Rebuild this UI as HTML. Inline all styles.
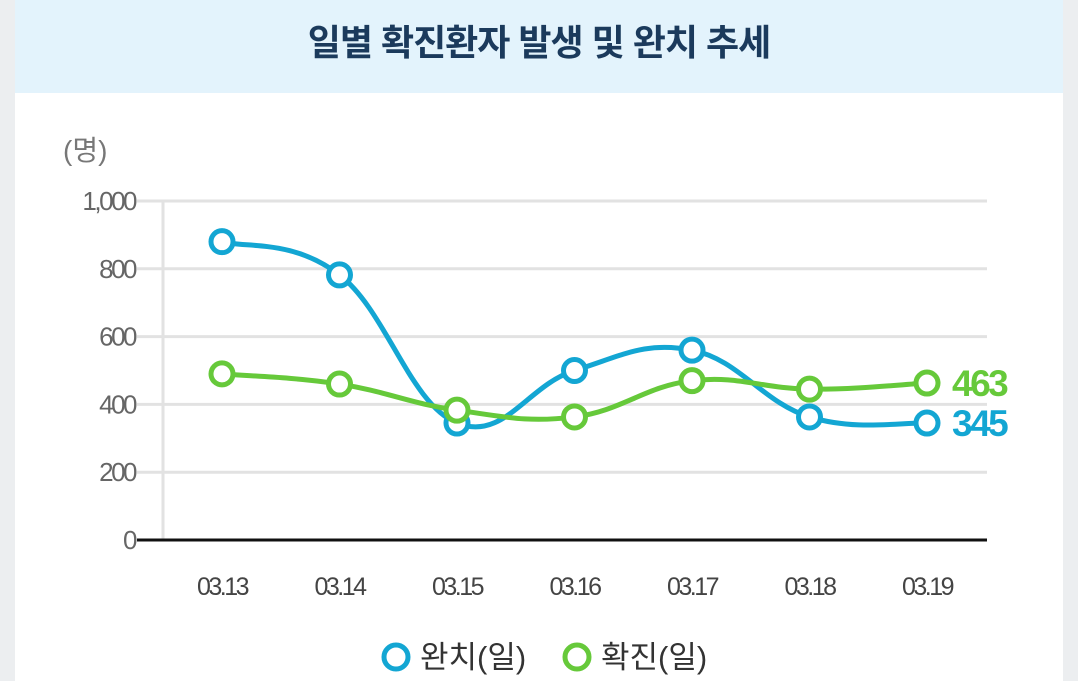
<!DOCTYPE html>
<html><head><meta charset="utf-8">
<style>
html,body{margin:0;padding:0;}
body{width:1078px;height:681px;background:#eceef0;overflow:hidden;font-family:"Liberation Sans","Noto Sans CJK KR",sans-serif;position:relative;}
#panel{position:absolute;left:15px;top:0;width:1048px;height:681px;background:#fff;}
#titlebar{position:absolute;left:0;top:0;width:1048px;height:93px;background:#e3f3fc;}
#title{position:absolute;left:0;top:14px;width:1048px;text-align:center;font-size:36px;font-weight:bold;color:#1b3a5c;letter-spacing:-1px;}
svg{position:absolute;left:0;top:0;}
</style></head><body>
<div id="panel">
<div id="titlebar"><div id="title">일별 확진환자 발생 및 완치 추세</div></div>
</div>
<svg id="chart" width="1078" height="681"></svg>
<script>
const categories=["03.13","03.14","03.15","03.16","03.17","03.18","03.19"];
const recovered=[880,782,345,500,560,363,345];
const confirmed=[490,460,383,363,470,445,463];
const yTicks=[0,200,400,600,800,1000];
const yTickLabels=["0","200","400","600","800","1,000"];
const NS="http://www.w3.org/2000/svg";
const svg=document.getElementById('chart');
const x0=222,dx=117.5,yBase=540,yTop=201;
function xs(i){return x0+i*dx;}
function ys(v){return yBase-(v/1000)*(yBase-yTop);}
function el(t,a){const e=document.createElementNS(NS,t);for(const k in a)e.setAttribute(k,a[k]);svg.appendChild(e);return e;}
let t=el('text',{x:63,y:160,'font-size':'28','fill':'#777'});t.textContent='(명)';


yTicks.forEach((v,i)=>{
 if(v>0){const g=el('line',{x1:137,x2:987,y1:ys(v),y2:ys(v),stroke:'#e2e2e2','stroke-width':3});
 
 }
 const l=el('text',{x:135,y:ys(v)+9,'font-size':'26','fill':'#666','text-anchor':'end','letter-spacing':'-2.5'});
 l.textContent=yTickLabels[i];
 
 
});
let va=el('line',{x1:163,x2:163,y1:201,y2:540,stroke:'#e2e2e2','stroke-width':3});


let ba=el('line',{x1:137,x2:987,y1:540,y2:540,stroke:'#111','stroke-width':3});


categories.forEach((c,i)=>{
 const l=el('text',{x:xs(i),y:595,'font-size':'25','fill':'#444','text-anchor':'middle','letter-spacing':'-2.5'});
 l.textContent=c;
 
 
});
function curve(vals){
 const p=vals.map((v,i)=>[xs(i),ys(v)]);let d='M'+p[0][0]+','+p[0][1];const k=0.2;
 for(let i=0;i<p.length-1;i++){const a=p[i-1]||p[i],b=p[i],c=p[i+1],e=p[i+2]||c;
  d+=' C'+(b[0]+(c[0]-a[0])*k)+','+(b[1]+(c[1]-a[1])*k)+' '+(c[0]-(e[0]-b[0])*k)+','+(c[1]-(e[1]-b[1])*k)+' '+c[0]+','+c[1];}
 return d;}
function series(vals,color,name){
 const p=el('path',{d:curve(vals),fill:'none',stroke:color,'stroke-width':5});
 
 
 vals.forEach((v,i)=>{const c=el('circle',{cx:xs(i),cy:ys(v),r:11,fill:'#fff',stroke:color,'stroke-width':5});
  
  });
 const last=vals[vals.length-1];
 const l=el('text',{x:952,y:ys(last)+13,'font-size':'37','fill':color,'font-weight':'bold','letter-spacing':'-2.5'});
 l.textContent=last;
 
 
}
series(recovered,'#13a6d3','recovered');
series(confirmed,'#66c93a','confirmed');
function legend(x,color,label,name){
 const c=el('circle',{cx:x,cy:657,r:12,fill:'#fff',stroke:color,'stroke-width':5});
 
 
 const l=el('text',{x:x+24,y:668,'font-size':'31','fill':'#333'});l.textContent=label;
 
 
}
legend(396,'#13a6d3','완치(일)','recovered');
legend(577,'#66c93a','확진(일)','confirmed');
</script>
</body></html>
